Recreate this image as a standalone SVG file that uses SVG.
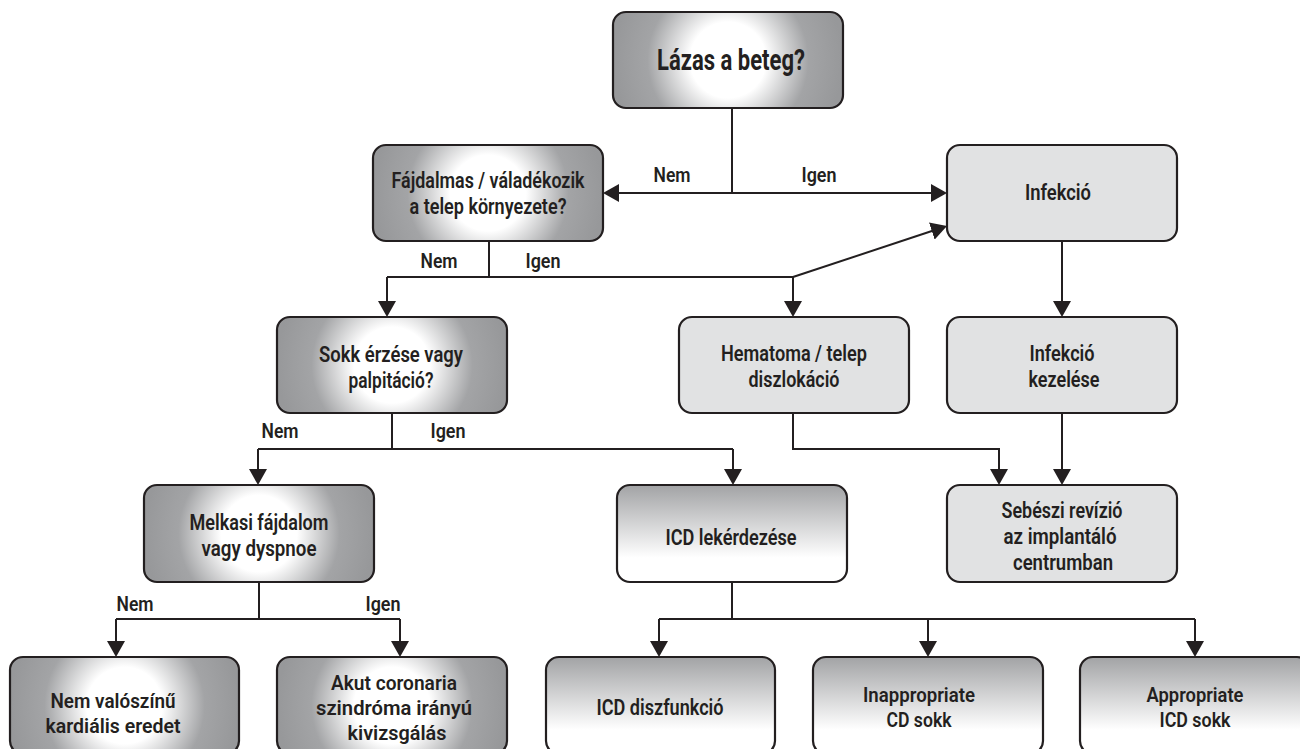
<svg xmlns="http://www.w3.org/2000/svg" width="1300" height="749" viewBox="0 0 1300 749">
<style>
.box{stroke:#231f20;stroke-width:2.2}
.dark{fill:url(#rad)}
.light{fill:#e1e2e3}
.lin{fill:url(#lin)}
.t{font-family:Roboto,"Liberation Sans",sans-serif;font-weight:600;font-size:22px;fill:#231f20;text-anchor:middle}
.b{font-size:21px}
.h{font-weight:700;font-size:29px}
.lbl{font-family:Roboto,"Liberation Sans",sans-serif;font-weight:600;font-size:20px;fill:#231f20;text-anchor:middle}
.c{fill:none;stroke:#231f20;stroke-width:2}
.a{marker-end:url(#arr)}
</style>
<defs>
<radialGradient id="rad" cx="0.5" cy="0.5" r="0.5" gradientTransform="translate(0.5 0.5) scale(1 2.4) translate(-0.5 -0.5)">
<stop offset="0" stop-color="#ffffff"/>
<stop offset="0.33" stop-color="#ffffff"/>
<stop offset="0.7" stop-color="#a3a4a6"/>
<stop offset="1" stop-color="#97989a"/>
</radialGradient>
<linearGradient id="lin" x1="0" y1="0" x2="0" y2="1">
<stop offset="0" stop-color="#a2a3a5"/>
<stop offset="0.75" stop-color="#ffffff"/>
<stop offset="1" stop-color="#ffffff"/>
</linearGradient>
<marker id="arr" viewBox="0 0 16 18" refX="12" refY="9" markerWidth="16" markerHeight="18" markerUnits="userSpaceOnUse" orient="auto">
<path d="M0,0 L16,9 L0,18 z" fill="#231f20"/>
</marker>
</defs>
<rect width="1300" height="749" fill="#ffffff"/>

<g id="connectors">
<path class="c" d="M732,108 V193"/>
<path class="c a" d="M732,193 H607"/>
<path class="c a" d="M732,193 H943"/>
<path class="c" d="M489,241 V277 M387,277 H793"/>
<path class="c a" d="M387,277 V313"/>
<path class="c a" d="M793,277 V313"/>
<path class="c a" d="M793,277 L943.2,227.3"/>
<path class="c a" d="M1062,241 V313"/>
<path class="c" d="M392,413 V449 M258,449 H733"/>
<path class="c a" d="M258,449 V481"/>
<path class="c a" d="M733,449 V481"/>
<path class="c a" d="M793,413 V449 H999 V481"/>
<path class="c a" d="M1062,413 V481"/>
<path class="c" d="M259,582 V619 M116,619 H400"/>
<path class="c a" d="M116,619 V653"/>
<path class="c a" d="M400,619 V653"/>
<path class="c" d="M732,582 V619 M659,619 H1195"/>
<path class="c a" d="M659,619 V653"/>
<path class="c a" d="M928,619 V653"/>
<path class="c a" d="M1195,619 V653"/>
<text class="lbl" x="672" y="182" textLength="37" lengthAdjust="spacingAndGlyphs">Nem</text>
<text class="lbl" x="819" y="182" textLength="35" lengthAdjust="spacingAndGlyphs">Igen</text>
<text class="lbl" x="439" y="268" textLength="37" lengthAdjust="spacingAndGlyphs">Nem</text>
<text class="lbl" x="543" y="268" textLength="35" lengthAdjust="spacingAndGlyphs">Igen</text>
<text class="lbl" x="280" y="438" textLength="37" lengthAdjust="spacingAndGlyphs">Nem</text>
<text class="lbl" x="448" y="438" textLength="35" lengthAdjust="spacingAndGlyphs">Igen</text>
<text class="lbl" x="135" y="611" textLength="37" lengthAdjust="spacingAndGlyphs">Nem</text>
<text class="lbl" x="383" y="611" textLength="35" lengthAdjust="spacingAndGlyphs">Igen</text>
</g>

<g id="lazas">
<rect class="box dark" x="613" y="12" width="230" height="96" rx="13"/>
<text class="t h" x="731" y="70" textLength="148" lengthAdjust="spacingAndGlyphs">Lázas a beteg?</text>
</g>

<g id="fajdalmas">
<rect class="box dark" x="373" y="145" width="230" height="96" rx="13"/>
<text class="t" x="488" y="188" textLength="193" lengthAdjust="spacingAndGlyphs">Fájdalmas / váladékozik</text>
<text class="t" x="488" y="214" textLength="157" lengthAdjust="spacingAndGlyphs">a telep környezete?</text>
</g>

<g id="infekcio">
<rect class="box light" x="947" y="145" width="230" height="96" rx="13"/>
<text class="t" x="1058" y="200" textLength="66" lengthAdjust="spacingAndGlyphs">Infekció</text>
</g>

<g id="sokk">
<rect class="box dark" x="277" y="317" width="230" height="96" rx="13"/>
<text class="t" x="391" y="362" textLength="144" lengthAdjust="spacingAndGlyphs">Sokk érzése vagy</text>
<text class="t" x="391" y="388" textLength="85" lengthAdjust="spacingAndGlyphs">palpitáció?</text>
</g>

<g id="hematoma">
<rect class="box light" x="679" y="317" width="230" height="96" rx="13"/>
<text class="t" x="794" y="361" textLength="146" lengthAdjust="spacingAndGlyphs">Hematoma / telep</text>
<text class="t" x="794" y="387" textLength="91" lengthAdjust="spacingAndGlyphs">diszlokáció</text>
</g>

<g id="infekcio-kezelese">
<rect class="box light" x="947" y="317" width="230" height="96" rx="13"/>
<text class="t" x="1062" y="361" textLength="65" lengthAdjust="spacingAndGlyphs">Infekció</text>
<text class="t" x="1064" y="387" textLength="71" lengthAdjust="spacingAndGlyphs">kezelése</text>
</g>

<g id="melkasi">
<rect class="box dark" x="144" y="485" width="230" height="97" rx="13"/>
<text class="t" x="259" y="530" textLength="139" lengthAdjust="spacingAndGlyphs">Melkasi fájdalom</text>
<text class="t" x="259" y="556" textLength="115" lengthAdjust="spacingAndGlyphs">vagy dyspnoe</text>
</g>

<g id="icd-lekerdezese">
<rect class="box lin" x="617" y="485" width="230" height="97" rx="13"/>
<text class="t" x="731" y="545" textLength="131" lengthAdjust="spacingAndGlyphs">ICD lekérdezése</text>
</g>

<g id="sebeszi">
<rect class="box light" x="947" y="485" width="230" height="97" rx="13"/>
<text class="t" x="1062" y="518" textLength="121" lengthAdjust="spacingAndGlyphs">Sebészi revízió</text>
<text class="t" x="1060" y="544" textLength="113" lengthAdjust="spacingAndGlyphs">az implantáló</text>
<text class="t" x="1063" y="570" textLength="100" lengthAdjust="spacingAndGlyphs">centrumban</text>
</g>

<g id="nem-valoszinu">
<rect class="box dark" x="10" y="657" width="229" height="97" rx="13"/>
<text class="t b" x="113" y="708" textLength="125" lengthAdjust="spacingAndGlyphs">Nem valószínű</text>
<text class="t b" x="113" y="733" textLength="135" lengthAdjust="spacingAndGlyphs">kardiális eredet</text>
</g>

<g id="akut">
<rect class="box dark" x="277" y="657" width="230" height="97" rx="13"/>
<text class="t b" x="394" y="690" textLength="126" lengthAdjust="spacingAndGlyphs">Akut coronaria</text>
<text class="t b" x="394" y="715" textLength="156" lengthAdjust="spacingAndGlyphs">szindróma irányú</text>
<text class="t b" x="397" y="740" textLength="99" lengthAdjust="spacingAndGlyphs">kivizsgálás</text>
</g>

<g id="icd-diszfunkcio">
<rect class="box lin" x="546" y="657" width="229" height="97" rx="13"/>
<text class="t" x="660" y="715" textLength="127" lengthAdjust="spacingAndGlyphs">ICD diszfunkció</text>
</g>

<g id="inappropriate">
<rect class="box lin" x="813" y="657" width="230" height="97" rx="13"/>
<text class="t b" x="919" y="702" textLength="112" lengthAdjust="spacingAndGlyphs">Inappropriate</text>
<text class="t b" x="919" y="727" textLength="65" lengthAdjust="spacingAndGlyphs">CD sokk</text>
</g>

<g id="appropriate">
<rect class="box lin" x="1080" y="657" width="230" height="97" rx="13"/>
<text class="t b" x="1195" y="702" textLength="97" lengthAdjust="spacingAndGlyphs">Appropriate</text>
<text class="t b" x="1195" y="727" textLength="71" lengthAdjust="spacingAndGlyphs">ICD sokk</text>
</g>
</svg>
